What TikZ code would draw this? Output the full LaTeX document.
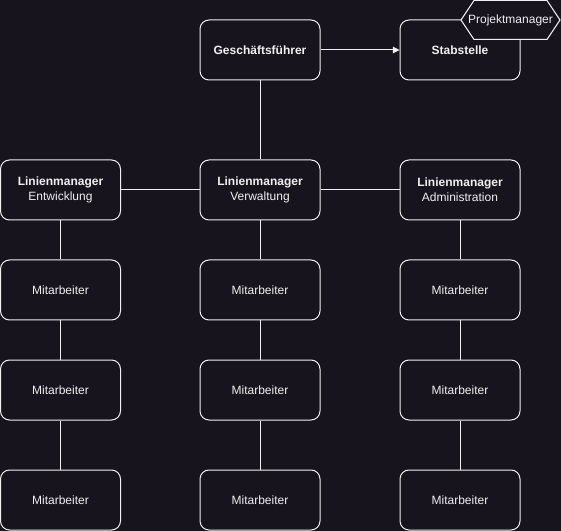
\documentclass[tikz,border=0pt]{standalone}
\usepackage{fontspec}
\setmainfont{Liberation Sans}
\usetikzlibrary{shapes.geometric,arrows.meta}
\definecolor{bg}{RGB}{24,20,29}
\definecolor{fg}{RGB}{240,240,240}
\begin{document}
\begin{tikzpicture}[x=0.75pt,y=-0.75pt,
  box/.style={draw=fg,fill=bg,line width=0.75pt,rounded corners=6.75pt,minimum width=90pt,minimum height=45pt,inner sep=0pt,text=fg,font=\fontsize{9}{11}\selectfont,align=center},
  hexa/.style={draw=fg,fill=bg,line width=0.75pt,regular polygon,regular polygon sides=6,shape border rotate=0,text=fg,font=\fontsize{9}{11}\selectfont},
  conn/.style={draw=fg,line width=0.75pt}]
\fill[bg] (0,0) rectangle (561,531);
\useasboundingbox (0,0) rectangle (561,531);
\node[box] (gf) at (260,50) {\textbf{Geschäftsführer}};
\node[box] (st) at (460,50) {\textbf{Stabstelle}};
\node[box] (le) at (60.5,190) {\textbf{Linienmanager}\\Entwicklung};
\node[box] (lv) at (260,190) {\textbf{Linienmanager}\\Verwaltung};
\node[box] (la) at (460,190) {\textbf{Linienmanager}\\Administration};
\foreach \c/\x in {e/60.5,v/260,a/460}{
  \node[box] (m1\c) at (\x,290) {Mitarbeiter};
  \node[box] (m2\c) at (\x,390) {Mitarbeiter};
  \node[box] (m3\c) at (\x,500) {Mitarbeiter};
}
\draw[conn,-{Triangle[length=5pt,width=5pt]}] (gf) -- (st);
\draw[conn] (gf) -- (lv);
\draw[conn] (lv) -- (le);
\draw[conn] (lv) -- (la);
\foreach \c in {e,v,a}{
  \draw[conn] (l\c) -- (m1\c);
  \draw[conn] (m1\c) -- (m2\c);
  \draw[conn] (m2\c) -- (m3\c);
}
\path[draw=fg,fill=bg,line width=0.75pt] (461,20) -- (474,0.5) -- (547,0.5) -- (560,20) -- (547,39.5) -- (474,39.5) -- cycle;
\node[text=fg,font=\fontsize{9}{11}\selectfont,inner sep=0pt] (pm) at (510.5,20) {Projektmanager};
\end{tikzpicture}
\end{document}
